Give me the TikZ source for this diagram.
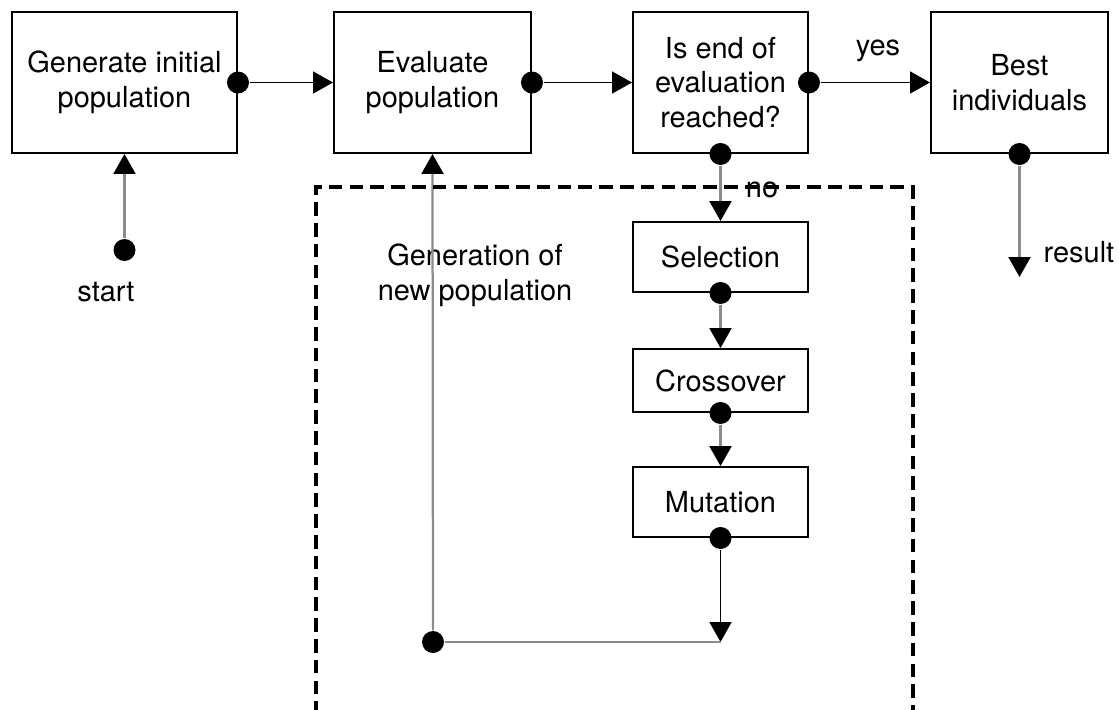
\documentclass[tikz,border=0pt]{standalone}
\usepackage{fontspec}
\setmainfont{TeX Gyre Heros}
\usetikzlibrary{arrows.meta}
\newcommand{\flowgray}{black!45}
\tikzset{
  stage/.style={draw, line width=0.7pt, inner sep=0pt, align=center},
  bigstage/.style={stage, minimum height=17.625mm},
  smallstage/.style={stage, minimum width=21.875mm},
  blob/.style={circle, fill, inner sep=0pt, minimum size=2.75mm},
  flow/.style={line width=0.6pt, -{Triangle[length=2.5mm, width=2.75mm, color=black, fill=black]}},
  frame/.style={line width=1.1pt, dash pattern=on 1.7mm off 0.9mm},
}

\begin{document}
\begin{tikzpicture}[x=0.125mm, y=-0.125mm, font=\fontsize{10.3}{12.4}\selectfont]
 \useasboundingbox (0,0) rectangle (1119,710);

 % top row
 \node[bigstage, minimum width=28.125mm] (gen) at (124.5,82.5) {Generate initial\\population};
 \node[bigstage, minimum width=24.625mm] (eval) at (432.5,82.5) {Evaluate\\population};
 \node[bigstage, minimum width=21.875mm] (check) at (720.5,82.5) {Is end of\\evaluation\\reached?};
 \node[bigstage, minimum width=22.125mm] (best) at (1019.5,82.5) {Best\\individuals};

 % operators
 \node[smallstage, minimum height=8.75mm] (sel) at (720.5,257) {Selection};
 \node[smallstage, minimum height=7.875mm] (cross) at (720.5,380.5) {Crossover};
 \node[smallstage, minimum height=8.75mm] (mut) at (720.5,502) {Mutation};

 % dots
 \node[blob] (genout) at (gen.east) {};
 \node[blob] (evalout) at (eval.east) {};
 \node[blob] (checkyes) at (check.east) {};
 \node[blob] (checkno) at (check.south) {};
 \node[blob] (bestout) at (best.south) {};
 \node[blob] (selout) at (sel.south) {};
 \node[blob] (crossout) at (cross.south) {};
 \node[blob] (mutout) at (mut.south) {};
 \node[blob] (startdot) at (124.5,250) {};
 \node[blob] (loopdot) at (433,642) {};
 \coordinate (loopend) at (720.5,642);
 \coordinate (resultend) at (1019.5,277);

 % labels
 \node (startlbl) at (106,292) {start};
 \node (yeslbl) at (878,51) {yes};
 \node (nolbl) at (762,190) {no};
 \node (resultlbl) at (1079,252) {result};
 \node[align=center] (genlbl) at (475,275) {Generation of\\new population};

 % connectors
 \draw[flow] (genout) -- (eval.west);
 \draw[flow] (evalout) -- (check.west);
 \draw[flow] (checkyes) -- (best.west);
 \draw[flow, \flowgray, line width=0.8pt] (startdot) -- (gen.south);
 \draw[flow, \flowgray, line width=0.8pt] (checkno) -- (sel.north);
 \draw[flow, \flowgray, line width=0.8pt] (selout) -- (cross.north);
 \draw[flow, \flowgray, line width=0.8pt] (crossout) -- (mut.north);
 \draw[flow, \flowgray, line width=0.8pt] (bestout) -- (resultend);
 \draw[flow] (mutout) -- (loopend);
 \draw[\flowgray, line width=0.8pt] (loopend) -- (loopdot);
 \draw[flow, \flowgray, line width=0.8pt] (loopdot) -- (eval.south);

 \draw[frame] (316,715) -- (316,187) -- (913,187) -- (913,715);

\end{tikzpicture}
\end{document}
